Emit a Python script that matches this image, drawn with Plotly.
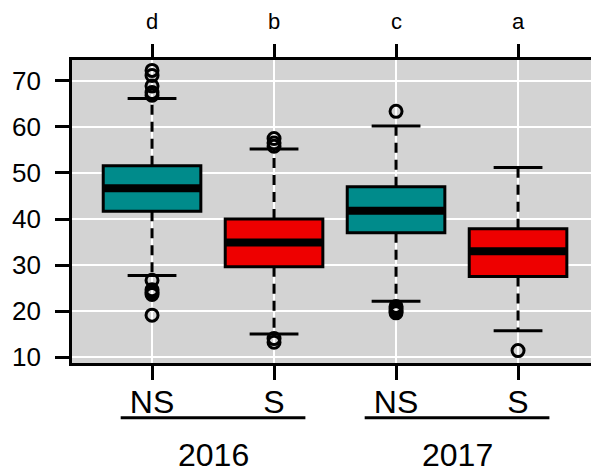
import plotly.graph_objects as go

# Treatment groups per year
positions = [1, 2, 3, 4]
treatment = ["NS", "S", "NS", "S"]
year = ["2016", "2016", "2017", "2017"]
letters = ["d", "b", "c", "a"]
y_ticks = [10, 20, 30, 40, 50, 60, 70]

# Box statistics
q1 = [41.7, 29.6, 37.0, 27.5]
median = [46.7, 34.9, 41.8, 33.0]
q3 = [51.6, 40.0, 47.0, 37.9]
whisk_lo = [27.7, 15.0, 22.1, 15.7]
whisk_hi = [66.2, 55.2, 60.2, 51.2]

# Points beyond the whiskers
outliers = [
    [72.3, 71.2, 68.9, 67.5, 66.9, 26.7, 24.6, 24.1, 23.6, 19.1],
    [57.5, 56.5, 55.8, 14.0, 13.2],
    [63.4, 21.0, 20.5, 20.0, 19.6],
    [11.4],
]

fill = {"NS": "#008B8B", "S": "#EE0000"}
FONT = "Liberation Sans, Arial, sans-serif"
BOX_W = 0.8
CAP_W = 0.4

fig = go.Figure()

for i, pos in enumerate(positions):
    # dashed whiskers
    fig.add_trace(go.Scatter(
        x=[pos, pos, None, pos, pos],
        y=[q3[i], whisk_hi[i], None, q1[i], whisk_lo[i]],
        mode="lines", line=dict(color="black", width=3, dash="10px,7px"),
        hoverinfo="skip", showlegend=False))
    # whisker caps
    fig.add_trace(go.Scatter(
        x=[pos - CAP_W / 2, pos + CAP_W / 2, None, pos - CAP_W / 2, pos + CAP_W / 2],
        y=[whisk_hi[i], whisk_hi[i], None, whisk_lo[i], whisk_lo[i]],
        mode="lines", line=dict(color="black", width=3),
        hoverinfo="skip", showlegend=False))
    # box body
    fig.add_trace(go.Box(
        x=[pos], q1=[q1[i]], median=[median[i]], q3=[q3[i]],
        lowerfence=[q1[i]], upperfence=[q3[i]],
        width=BOX_W, whiskerwidth=0, boxpoints=False,
        fillcolor=fill[treatment[i]], line=dict(color="black", width=3),
        showlegend=False))
    # thick median bar
    fig.add_trace(go.Scatter(
        x=[pos - BOX_W / 2, pos + BOX_W / 2], y=[median[i], median[i]],
        mode="lines", line=dict(color="black", width=8),
        hoverinfo="skip", showlegend=False))
    # outliers
    fig.add_trace(go.Scatter(
        x=[pos] * len(outliers[i]), y=outliers[i], mode="markers",
        marker=dict(symbol="circle-open", size=12, color="black",
                    line=dict(width=3, color="black")),
        showlegend=False))

x_range = [0.344, 4.598]

# significance letters above each box
for pos, letter in zip(positions, letters):
    fig.add_annotation(x=pos, y=1.126, xref="x", yref="paper", text=letter,
                       showarrow=False, yanchor="middle",
                       font=dict(family=FONT, size=22, color="black"))

# y-axis value labels
for v in y_ticks:
    fig.add_annotation(x=-0.056, y=v, xref="paper", yref="y", text=str(v),
                       showarrow=False, xanchor="right", yanchor="middle",
                       font=dict(family=FONT, size=26, color="black"))

# year labels with underlines spanning each pair of boxes
for yr in ["2016", "2017"]:
    ps = [p for p, y in zip(positions, year) if y == yr]
    centre = sum(ps) / len(ps)
    half = (max(ps) - min(ps)) / 2 + 0.257
    fig.add_shape(type="line", xref="x", yref="paper",
                  x0=centre - half, x1=centre + half, y0=-0.181, y1=-0.181,
                  line=dict(color="black", width=3))
    fig.add_annotation(x=centre, y=-0.302, xref="x", yref="paper",
                       text=yr, showarrow=False, yanchor="middle",
                       font=dict(family=FONT, size=32, color="black"))

fig.update_layout(
    template="none",
    width=591, height=472,
    margin=dict(l=72, r=0, t=60, b=109),
    paper_bgcolor="white", plot_bgcolor="#D3D3D3",
    boxmode="overlay",
    font=dict(family=FONT, color="black"),
    xaxis=dict(
        range=x_range, tickmode="array", tickvals=positions, ticktext=treatment,
        ticks="outside", ticklen=14, tickwidth=2.5, tickcolor="black",
        tickfont=dict(family=FONT, size=32, color="black"), ticklabelstandoff=-5,
        showgrid=True, gridcolor="white", gridwidth=1.5,
        showline=True, linecolor="black", linewidth=2.5, zeroline=False),
    xaxis2=dict(
        overlaying="x", side="top", matches="x", range=x_range,
        tickmode="array", tickvals=positions, showticklabels=False,
        ticks="outside", ticklen=13, tickwidth=2.5, tickcolor="black",
        showgrid=False, showline=True, linecolor="black", linewidth=2.5,
        zeroline=False),
    yaxis=dict(
        range=[8.70, 74.56], tickmode="array", tickvals=y_ticks,
        showticklabels=False,
        ticks="outside", ticklen=14, tickwidth=2.5, tickcolor="black",
        showgrid=True, gridcolor="white", gridwidth=1.5,
        showline=True, linecolor="black", linewidth=2.5, zeroline=False),
)

# invisible trace so the top axis is laid out
fig.add_trace(go.Scatter(x=positions, y=median, xaxis="x2", mode="markers",
                         marker=dict(opacity=0), hoverinfo="skip", showlegend=False))

fig.write_html("out.html")
